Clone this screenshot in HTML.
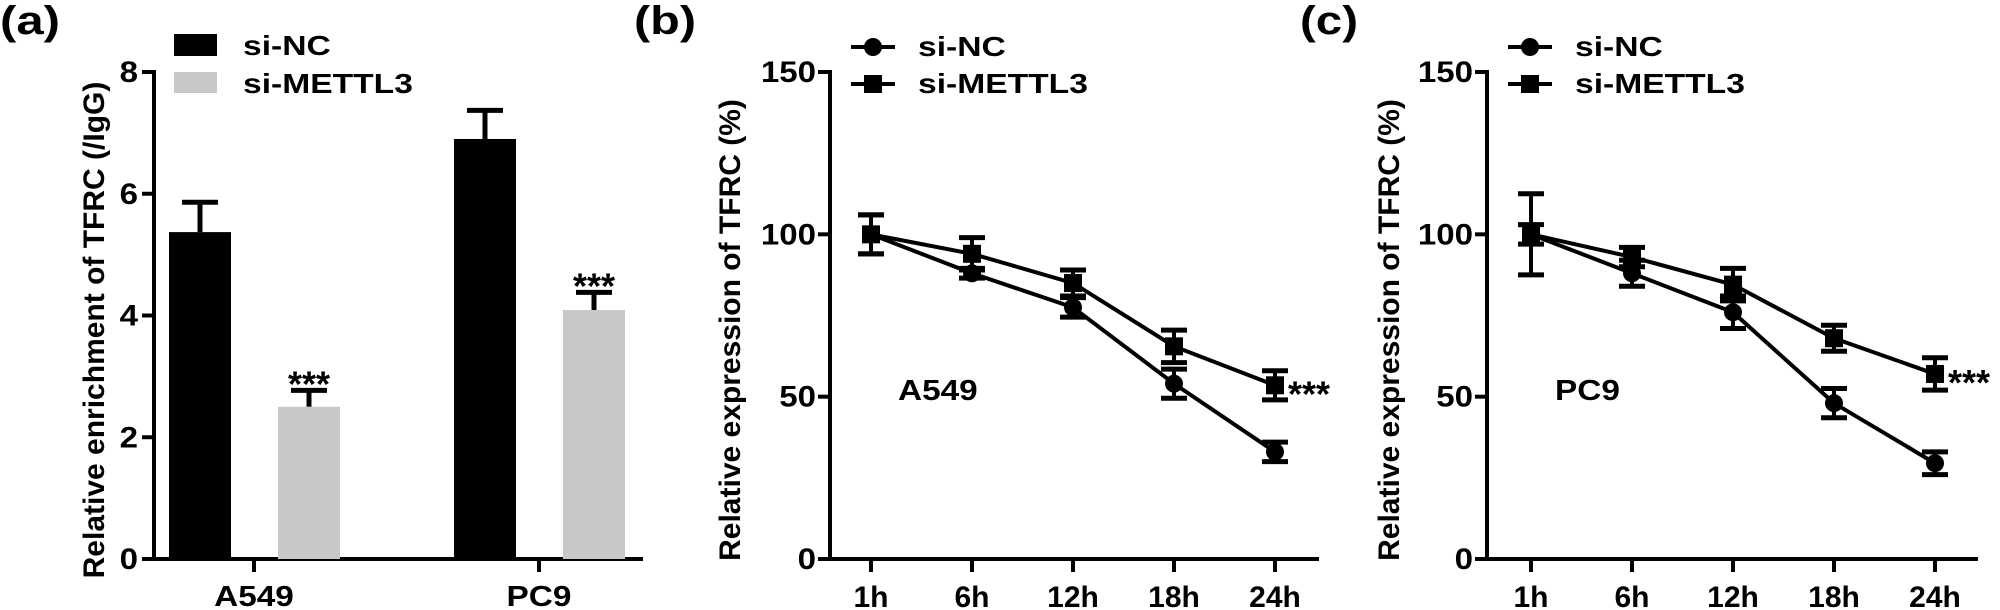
<!DOCTYPE html>
<html><head><meta charset="utf-8"><style>
html,body{margin:0;padding:0;background:#fff;}
svg{display:block;font-family:"Liberation Sans",Arial,sans-serif;font-weight:bold;}
</style></head><body>
<svg id="fig" width="2000" height="610" viewBox="0 0 2000 610" xmlns="http://www.w3.org/2000/svg">
<rect width="2000" height="610" fill="#fff"/>
<text x="0" y="34" font-size="40" textLength="60" lengthAdjust="spacingAndGlyphs">(a)</text>
<text x="634" y="34" font-size="40" textLength="62" lengthAdjust="spacingAndGlyphs">(b)</text>
<text x="1300" y="34" font-size="40" textLength="58" lengthAdjust="spacingAndGlyphs">(c)</text>
</svg>
<script>
// Panel (a) data
const aCategories = ["A549", "PC9"];
const aNC = [5.37, 6.9];
const aNCerr = [0.49, 0.47];
const aKD = [2.5, 4.09];
const aKDerr = [0.27, 0.29];
const aTicks = [0, 2, 4, 6, 8];
// Panels (b),(c) data
const timeLabels = ["1h", "6h", "12h", "18h", "24h"];
const bNC = [100, 88, 77.5, 54, 33];
const bNCerr = [6, 1.5, 3, 4.5, 3];
const bKD = [100, 94, 85, 65.5, 53.5];
const bKDerr = [6, 5, 4, 5, 4.5];
const cNC = [100, 88, 76, 48, 29.5];
const cNCerr = [12.5, 4, 5, 4.5, 3.5];
const cKD = [100, 93, 84.5, 68, 57];
const cKDerr = [3, 3, 5, 4, 5];
const lineTicks = [0, 50, 100, 150];

const svg = document.getElementById('fig');
const NS = "http://www.w3.org/2000/svg";
function mk(tag, attrs, parent) {
  const e = document.createElementNS(NS, tag);
  for (const k in attrs) e.setAttribute(k, attrs[k]);
  (parent || svg).appendChild(e);
  return e;
}
function txt(x, y, s, size, anchor, parent, stretch) {
  const t = mk('text', {x: x, y: y, 'font-size': size, 'text-anchor': anchor || 'start'}, parent);
  t.textContent = s;
  if (stretch && stretch !== 1) {
    const w = t.getComputedTextLength();
    if (w > 0) {
      t.setAttribute('textLength', (w * stretch).toFixed(1));
      t.setAttribute('lengthAdjust', 'spacingAndGlyphs');
    }
  }
  return t;
}

// ---------- Panel A ----------
(function () {
  const g = mk('g', {});
  
  
  const x0 = 154, xEnd = 643, yBase = 559, yTop = 72, vmax = 8;
  const y = v => yBase - (v / vmax) * (yBase - yTop);
  const catX = [254, 539];
  const barW = 62;
  mk('line', {x1: x0, y1: yTop - 2, x2: x0, y2: yBase + 2, stroke: '#000', 'stroke-width': 4}, g);
  mk('line', {x1: x0 - 2, y1: yBase, x2: xEnd, y2: yBase, stroke: '#000', 'stroke-width': 4}, g);
  aTicks.forEach(t => {
    mk('line', {x1: x0 - 12, y1: y(t), x2: x0, y2: y(t), stroke: '#000', 'stroke-width': 4}, g);
    const l = txt(x0 - 16, y(t) + 10, String(t), 30, 'end', g, 1.1);
    
    
  });
  aCategories.forEach((c, i) => {
    mk('line', {x1: catX[i], y1: yBase, x2: catX[i], y2: yBase + 13, stroke: '#000', 'stroke-width': 4}, g);
    const l = txt(catX[i], 606, c, 29, 'middle', g, 1.15);
    
    
    const series = [[aNC, aNCerr, '#000', -54, false], [aKD, aKDerr, '#c8c8c8', 55, true]];
    series.forEach(s => {
      const cx = catX[i] + s[3];
      const v = s[0][i], e = s[1][i];
      mk('line', {x1: cx, y1: y(v), x2: cx, y2: y(v + e), stroke: '#000', 'stroke-width': 5}, g);
      mk('line', {x1: cx - 18, y1: y(v + e), x2: cx + 18, y2: y(v + e), stroke: '#000', 'stroke-width': 5}, g);
      const b = mk('rect', {x: cx - barW / 2, y: y(v), width: barW, height: yBase - y(v), fill: s[2]}, g);
      
      
      if (s[4]) {
        const st = txt(cx, y(v + e) + 6, '***', 36, 'middle', g);
        
        
      }
    });
  });
  mk('rect', {x: 174, y: 34, width: 43, height: 22, fill: '#000'}, g);
  mk('rect', {x: 174, y: 72, width: 43, height: 21, fill: '#c8c8c8'}, g);
  const l1 = txt(243, 55, 'si-NC', 28, 'start', g, 1.2);
  
  
  const l2 = txt(243, 93, 'si-METTL3', 28, 'start', g, 1.2);
  
  
  const yt = txt(0, 0, 'Relative enrichment of TFRC (/IgG)', 30, 'middle', g);
  yt.setAttribute('transform', 'translate(104,330) rotate(-90)');
  
  
})();

// ---------- Line panels ----------
function linePanel(name, x0, xEnd, firstTick, nc, ncErr, kd, kdErr, cellLabel, titleX) {
  const g = mk('g', {});
  
  
  const yBase = 559, yTop = 72, vmax = 150, step = 101;
  const y = v => yBase - (v / vmax) * (yBase - yTop);
  const x = i => firstTick + i * step;
  mk('line', {x1: x0, y1: yTop - 2, x2: x0, y2: yBase + 2, stroke: '#000', 'stroke-width': 4}, g);
  mk('line', {x1: x0 - 2, y1: yBase, x2: xEnd, y2: yBase, stroke: '#000', 'stroke-width': 4}, g);
  lineTicks.forEach(t => {
    mk('line', {x1: x0 - 12, y1: y(t), x2: x0, y2: y(t), stroke: '#000', 'stroke-width': 4}, g);
    const l = txt(x0 - 14, y(t) + 10, String(t), 30, 'end', g, 1.1);
    
    
  });
  timeLabels.forEach((s, i) => {
    mk('line', {x1: x(i), y1: yBase, x2: x(i), y2: yBase + 13, stroke: '#000', 'stroke-width': 4}, g);
    const l = txt(x(i), 607, s, 30, 'middle', g);
    
    
  });
  [[nc, ncErr, 'circle'], [kd, kdErr, 'square']].forEach(s => {
    const pts = s[0].map((v, i) => x(i) + ',' + y(v)).join(' ');
    const pl = mk('polyline', {points: pts, fill: 'none', stroke: '#000', 'stroke-width': 4}, g);
    
    
    s[0].forEach((v, i) => {
      const e = s[1][i];
      mk('line', {x1: x(i), y1: y(v - e), x2: x(i), y2: y(v + e), stroke: '#000', 'stroke-width': 4}, g);
      mk('line', {x1: x(i) - 13, y1: y(v - e), x2: x(i) + 13, y2: y(v - e), stroke: '#000', 'stroke-width': 5}, g);
      mk('line', {x1: x(i) - 13, y1: y(v + e), x2: x(i) + 13, y2: y(v + e), stroke: '#000', 'stroke-width': 5}, g);
      let m;
      if (s[2] === 'circle') m = mk('circle', {cx: x(i), cy: y(v), r: 9, fill: '#000'}, g);
      else m = mk('rect', {x: x(i) - 9, y: y(v) - 9, width: 18, height: 18, fill: '#000'}, g);
      
      
    });
  });
  const st = txt(x(4) + 13, y(kd[4]) + 21, '***', 36, 'start', g);
  
  
  const lx = x0 + 21;
  mk('line', {x1: lx, y1: 47, x2: lx + 44, y2: 47, stroke: '#000', 'stroke-width': 4}, g);
  mk('circle', {cx: lx + 22, cy: 47, r: 9, fill: '#000'}, g);
  mk('line', {x1: lx, y1: 84, x2: lx + 44, y2: 84, stroke: '#000', 'stroke-width': 4}, g);
  mk('rect', {x: lx + 13, y: 75, width: 18, height: 18, fill: '#000'}, g);
  const l1 = txt(lx + 67, 56, 'si-NC', 28, 'start', g, 1.2);
  
  
  const l2 = txt(lx + 67, 93, 'si-METTL3', 28, 'start', g, 1.2);
  
  
  const cl = txt(x0 + 68, 400, cellLabel, 29, 'start', g, 1.15);
  
  
  const yt = txt(0, 0, 'Relative expression of TFRC (%)', 30, 'middle', g);
  yt.setAttribute('transform', 'translate(' + titleX + ',330) rotate(-90)');
  
  
}
linePanel('panel-b-line-chart', 830, 1319, 871, bNC, bNCerr, bKD, bKDerr, 'A549', 740);
linePanel('panel-c-line-chart', 1487, 1978, 1531, cNC, cNCerr, cKD, cKDerr, 'PC9', 1399);
</script>
</body></html>
